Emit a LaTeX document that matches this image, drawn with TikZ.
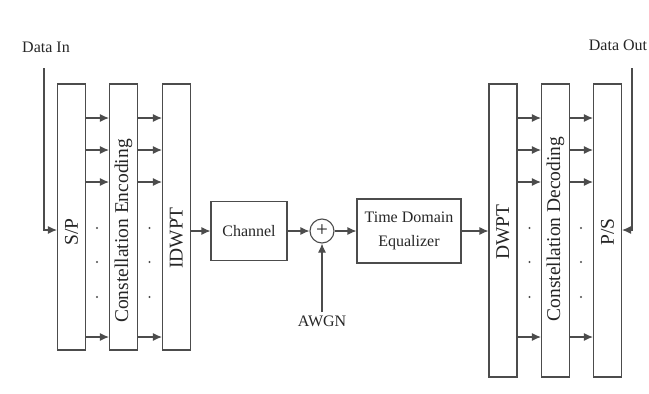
\documentclass[tikz,border=0pt]{standalone}
\usepackage{fontspec}
\setmainfont{Liberation Serif}
\usetikzlibrary{arrows.meta,positioning}
\tikzset{
  blk/.style={draw=black!70, line width=1.1pt, minimum width=28pt, inner sep=0pt},
  vlbl/.style={rotate=90, font=\fontsize{19.5}{21}\selectfont, text=black!85, inner sep=0pt},
  hlbl/.style={font=\fontsize{16}{24}\selectfont, text=black!85, align=center},
  sig/.style={draw=black!70, line width=1.1pt, -{Latex[length=9pt,width=8pt]}},
}
\begin{document}
\begin{tikzpicture}[x=1pt,y=-1pt]
\useasboundingbox (0,0) rectangle (649,394);

\node[blk, minimum height=266pt] (sp) at (71.5,217) {};
\node[blk, minimum height=266pt] (ce) at (123.5,217) {};
\node[blk, minimum height=266pt] (id) at (176.5,217) {};
\node[blk, minimum height=293pt] (dw) at (503,230.5) {};
\node[blk, minimum height=293pt] (cd) at (555.5,230.5) {};
\node[blk, minimum height=293pt] (ps) at (607.5,230.5) {};

\node[vlbl] (sptxt) at (71.5,232) {S/P};
\node[vlbl] (cetxt) at (123.5,231) {Constellation Encoding};
\node[vlbl] (idtxt) at (176.5,238) {IDWPT};
\node[vlbl] (dwtxt) at (503,232) {DWPT};
\node[vlbl] (cdtxt) at (555.5,229) {Constellation Decoding};
\node[vlbl] (pstxt) at (607.5,232) {P/S};

\node[blk, hlbl, minimum width=76pt, minimum height=59pt] (ch) at (249,231) {Channel};
\node[draw=black!70, line width=1.1pt, circle, minimum size=24pt, inner sep=0pt,
  font=\fontsize{21}{21}\selectfont, text=black!85] (sum) at (322,231) {+};
\node[blk, hlbl, minimum width=104pt, minimum height=64pt] (eq) at (409,231) {Time Domain\\Equalizer};
\node[hlbl] (awgn) at (322,321) {AWGN};

\node[hlbl] (din) at (46,47) {Data In};
\node[hlbl] (dout) at (618,45) {Data Out};
\coordinate (din0) at (44,68);
\coordinate (dout0) at (632,68);

\draw[sig] (din0) |- (sp.west |- 0,230);
\draw[sig] (dout0) |- (ps.east |- 0,230);

\foreach \y in {118,150,182,337} {
  \draw[sig] (sp.east |- 0,\y) -- (ce.west |- 0,\y);
  \draw[sig] (ce.east |- 0,\y) -- (id.west |- 0,\y);
  \draw[sig] (dw.east |- 0,\y) -- (cd.west |- 0,\y);
  \draw[sig] (cd.east |- 0,\y) -- (ps.west |- 0,\y);
}
\foreach \y in {228,262,297} {
  \fill[black!70] (97,\y) circle (1.2pt) (149.5,\y) circle (1.2pt);
  \fill[black!70] (529.5,\y) circle (1.2pt) (581,\y) circle (1.2pt);
}

\draw[sig] (id.east |- ch.west) -- (ch.west);
\draw[sig] (ch) -- (sum);
\draw[sig] (sum) -- (eq);
\draw[sig] (eq) -- (dw.west |- eq.east);
\draw[sig] (awgn) -- (sum);
\end{tikzpicture}
\end{document}
